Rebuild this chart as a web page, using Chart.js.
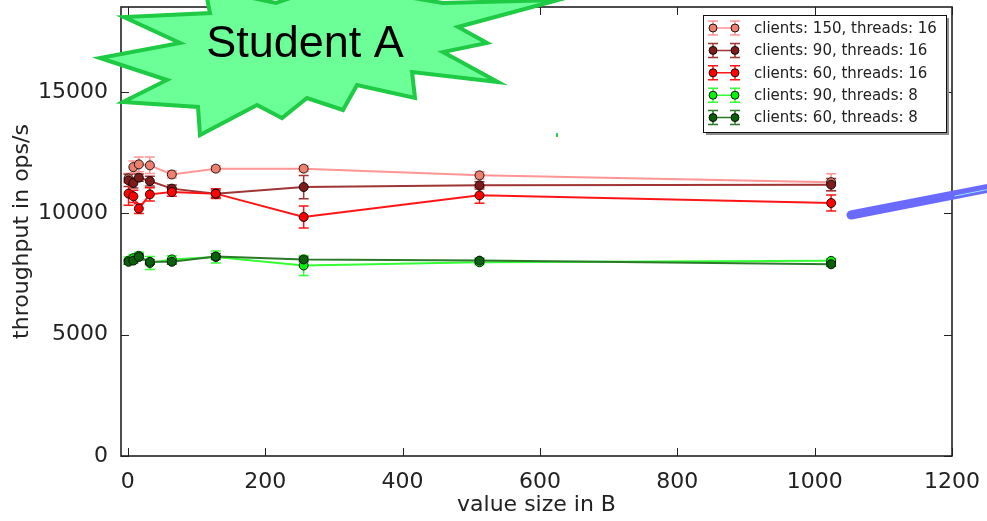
<!DOCTYPE html>
<html>
<head>
<meta charset="utf-8">
<script src="https://cdn.jsdelivr.net/npm/chart.js@4"></script>
<style>
  html, body { margin: 0; padding: 0; background: #fff; }
  canvas { display: block; }
</style>
</head>
<body>
<canvas id="chart" width="987" height="521"></canvas>
<script>
// value sizes in bytes
const X_VALUES = [1, 8, 16, 32, 64, 128, 256, 512, 1024];
const X_TICKS = [0, 200, 400, 600, 800, 1000, 1200];
const Y_TICKS = [0, 5000, 10000, 15000];

const LABELS = [
  'clients: 150, threads: 16',
  'clients: 90, threads: 16',
  'clients: 60, threads: 16',
  'clients: 90, threads: 8',
  'clients: 60, threads: 8',
];

// throughput (ops/s) and std dev per run
const C150_T16     = [11440, 11905, 12016, 11975, 11600, 11840, 11840, 11563, 11280];
const C150_T16_ERR = [200, 250, 300, 340, 150, 120, 120, 150, 350];
const C90_T16      = [11357, 11246, 11468, 11328, 11016, 10810, 11082, 11152, 11180];
const C90_T16_ERR  = [250, 200, 150, 200, 150, 150, 480, 150, 250];
const C60_T16      = [10810, 10700, 10193, 10780, 10875, 10810, 9847, 10740, 10423];
const C60_T16_ERR  = [480, 250, 200, 275, 170, 200, 450, 330, 330];
const C90_T8       = [8050, 8150, 8250, 7950, 8100, 8200, 7850, 7980, 8040];
const C90_T8_ERR   = [150, 150, 150, 270, 150, 250, 410, 100, 100];
const C60_T8       = [8000, 8050, 8200, 8000, 8000, 8220, 8100, 8050, 7900];
const C60_T8_ERR   = [100, 100, 120, 100, 100, 120, 100, 100, 80];

const SERIES = [
  { y: C150_T16, err: C150_T16_ERR, line: '#ff9595', fill: '#ee8070' },
  { y: C90_T16,  err: C90_T16_ERR,  line: '#a03535', fill: '#7e1c1c' },
  { y: C60_T16,  err: C60_T16_ERR,  line: '#ff1515', fill: '#ff0000' },
  { y: C90_T8,   err: C90_T8_ERR,   line: '#33ff33', fill: '#11ee11' },
  { y: C60_T8,   err: C60_T8_ERR,   line: '#2a7a2a', fill: '#0a5f0a' },
];

const FONT = 'DejaVu Sans';

// vertical error bars with caps
const errorBars = {
  id: 'errorBars',
  beforeDatasetsDraw(chart) {
    const { ctx, chartArea: a, scales: { x, y } } = chart;
    ctx.save();
    ctx.beginPath();
    ctx.rect(a.left, a.top, a.right - a.left, a.bottom - a.top);
    ctx.clip();
    chart.data.datasets.forEach(ds => {
      ctx.strokeStyle = ds.borderColor;
      ctx.lineWidth = 1.5;
      ds.data.forEach((p, i) => {
        const px = x.getPixelForValue(p.x);
        const top = y.getPixelForValue(p.y + ds.errs[i]);
        const bot = y.getPixelForValue(p.y - ds.errs[i]);
        ctx.beginPath();
        ctx.moveTo(px, top); ctx.lineTo(px, bot);
        ctx.moveTo(px - 5, top); ctx.lineTo(px + 5, top);
        ctx.moveTo(px - 5, bot); ctx.lineTo(px + 5, bot);
        ctx.stroke();
      });
    });
    ctx.restore();
  }
};

// box frame with inward ticks on all sides
const frame = {
  id: 'frame',
  afterDraw(chart) {
    const { ctx, chartArea: a, scales: { x, y } } = chart;
    ctx.save();
    ctx.strokeStyle = '#222';
    ctx.lineWidth = 1;
    ctx.beginPath();
    X_TICKS.forEach(v => {
      const px = Math.round(x.getPixelForValue(v)) + 0.5;
      ctx.moveTo(px, a.bottom); ctx.lineTo(px, a.bottom - 8);
      ctx.moveTo(px, a.top); ctx.lineTo(px, a.top + 8);
    });
    Y_TICKS.forEach(v => {
      const py = Math.round(y.getPixelForValue(v)) + 0.5;
      ctx.moveTo(a.left, py); ctx.lineTo(a.left + 8, py);
      ctx.moveTo(a.right, py); ctx.lineTo(a.right - 8, py);
    });
    ctx.stroke();
    ctx.lineWidth = 1.6;
    ctx.strokeRect(a.left, a.top, a.right - a.left, a.bottom - a.top);
    ctx.restore();
  }
};

// matplotlib-style legend in the upper right corner
const boxLegend = {
  id: 'boxLegend',
  afterDraw(chart) {
    const { ctx, chartArea: a } = chart;
    const w = 243, h = 117;
    const bx = a.right - 6 - w, by = a.top + 8;
    ctx.save();
    ctx.fillStyle = '#8c8c8c';
    ctx.fillRect(bx + 3, by + 3, w, h);
    ctx.fillStyle = '#fff';
    ctx.fillRect(bx, by, w, h);
    ctx.strokeStyle = '#111';
    ctx.lineWidth = 1;
    ctx.strokeRect(bx + 0.5, by + 0.5, w, h);
    ctx.font = '15px "' + FONT + '"';
    ctx.textBaseline = 'middle';
    chart.data.datasets.forEach((ds, i) => {
      const cy = by + 13 + i * 22.4;
      const x1 = bx + 10, x2 = bx + 32;
      ctx.strokeStyle = ds.borderColor;
      ctx.lineWidth = 1.5;
      ctx.beginPath();
      ctx.moveTo(x1, cy); ctx.lineTo(x2, cy);
      [x1, x2].forEach(px => {
        ctx.moveTo(px, cy - 7); ctx.lineTo(px, cy + 7);
        ctx.moveTo(px - 5, cy - 7); ctx.lineTo(px + 5, cy - 7);
        ctx.moveTo(px - 5, cy + 7); ctx.lineTo(px + 5, cy + 7);
      });
      ctx.stroke();
      [x1, x2].forEach(px => {
        ctx.beginPath();
        ctx.arc(px, cy, 4, 0, Math.PI * 2);
        ctx.fillStyle = ds.pointBackgroundColor;
        ctx.fill();
        ctx.strokeStyle = 'rgba(0,0,0,0.85)';
        ctx.lineWidth = 1;
        ctx.stroke();
      });
      ctx.fillStyle = '#222';
      ctx.fillText(ds.label, bx + 51, cy + 1);
    });
    ctx.restore();
  }
};

// hand-drawn overlay: the starburst tag and the blue pen stroke
const STAR = [
  [205, -12], [276, 3], [330, -16], [443, 3], [558, 0], [458, 27], [487, 43],
  [443, 52], [498, 82], [412, 72], [415, 98], [357, 85], [343, 110], [307, 98],
  [282, 118], [257, 105], [200, 135], [198, 107], [123, 102], [167, 80],
  [100, 58], [180, 43], [124, 17], [210, 13],
];
const overlay = {
  id: 'overlay',
  afterDraw(chart) {
    const ctx = chart.ctx;
    ctx.save();
    ctx.beginPath();
    STAR.forEach(([px, py], i) => i ? ctx.lineTo(px, py) : ctx.moveTo(px, py));
    ctx.closePath();
    ctx.fillStyle = '#6cff98';
    ctx.fill();
    ctx.strokeStyle = '#1fca45';
    ctx.lineWidth = 4;
    ctx.lineJoin = 'miter';
    ctx.stroke();
    ctx.fillStyle = '#000';
    ctx.font = '45px "Liberation Sans"';
    ctx.textAlign = 'center';
    ctx.textBaseline = 'alphabetic';
    ctx.fillText('Student A', 305, 57);
    ctx.fillStyle = '#2bd14a';
    ctx.fillRect(556, 133, 2, 4);

    ctx.strokeStyle = '#6a6aff';
    ctx.lineWidth = 9;
    ctx.lineCap = 'round';
    ctx.beginPath();
    ctx.moveTo(851, 215);
    ctx.lineTo(1000, 186);
    ctx.stroke();
    ctx.strokeStyle = '#8ee8ff';
    ctx.lineWidth = 1;
    ctx.beginPath();
    ctx.moveTo(955, 196);
    ctx.lineTo(990, 189);
    ctx.stroke();
    ctx.restore();
  }
};

const datasets = SERIES.map((s, i) => ({
  label: LABELS[i],
  data: X_VALUES.map((xv, j) => ({ x: xv, y: s.y[j] })),
  errs: s.err,
  showLine: true,
  borderColor: s.line,
  borderWidth: 2,
  pointRadius: 4.5,
  pointBorderWidth: 1,
  pointBackgroundColor: s.fill,
  pointBorderColor: 'rgba(0,0,0,0.85)',
  order: SERIES.length - i,
}));

new Chart(document.getElementById('chart'), {
  type: 'scatter',
  data: { datasets },
  options: {
    responsive: false,
    animation: false,
    layout: { padding: { top: 7, right: 35, left: 0, bottom: 0 } },
    plugins: { legend: { display: false }, tooltip: { enabled: false } },
    scales: {
      x: {
        type: 'linear',
        min: -10,
        max: 1200,
        grid: { display: false },
        border: { display: false },
        afterBuildTicks: s => { s.ticks = X_TICKS.map(v => ({ value: v })); },
        afterFit: s => { s.height = 65; s.paddingLeft = 0; s.paddingRight = 0; },
        ticks: {
          color: '#222', padding: 5, maxRotation: 0,
          font: { family: FONT, size: 22 }, callback: v => String(v),
        },
        title: {
          display: true, text: 'value size in B', color: '#222',
          font: { family: FONT, size: 22 }, padding: { top: 0, bottom: 3 },
        },
      },
      y: {
        min: 0,
        max: 18500,
        grid: { display: false },
        border: { display: false },
        afterBuildTicks: s => { s.ticks = Y_TICKS.map(v => ({ value: v })); },
        afterFit: s => { s.width = 121; s.paddingTop = 0; s.paddingBottom = 0; },
        ticks: {
          color: '#222', padding: 5,
          font: { family: FONT, size: 22 }, callback: v => String(v),
        },
        title: {
          display: true, text: 'throughput in ops/s', color: '#222',
          font: { family: FONT, size: 22 }, padding: { top: 9, bottom: 0 },
        },
      },
    },
  },
  plugins: [errorBars, frame, boxLegend, overlay],
});
</script>
</body>
</html>
